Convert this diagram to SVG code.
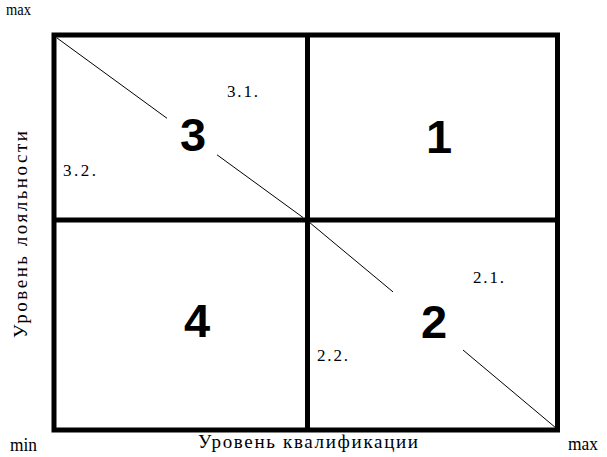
<svg xmlns="http://www.w3.org/2000/svg" width="607" height="457" viewBox="0 0 607 457">
<style>
.frame{fill:none;stroke:#000;stroke-width:5}
.diag{stroke:#000;stroke-width:1;fill:none}
.big{font-family:"Liberation Sans",Arial,sans-serif;font-weight:bold;font-size:47px;text-anchor:middle;fill:#000}
.small{font-family:"Liberation Serif","Times New Roman",serif;font-size:17px;fill:#000}
.axis{font-family:"Liberation Serif","Times New Roman",serif;font-size:19px;fill:#000}
</style>
<rect width="607" height="457" fill="#fff"/>
<g id="grid">
<rect class="frame" x="54" y="35" width="503.5" height="395"/>
<line class="frame" x1="307.5" y1="35" x2="307.5" y2="430"/>
<line class="frame" x1="54" y1="220" x2="557.5" y2="220"/>
</g>
<g id="connectors">
<line class="diag" x1="57" y1="38" x2="167" y2="118.3"/>
<line class="diag" x1="217" y1="154.8" x2="303" y2="217.5"/>
<line class="diag" x1="309" y1="222" x2="393" y2="291.9"/>
<line class="diag" x1="463" y1="350" x2="556" y2="428"/>
</g>
<g id="q3">
<text class="big" x="193" y="151">3</text>
<text class="small" x="227" y="97" textLength="31" lengthAdjust="spacing">3.1.</text>
<text class="small" x="63" y="176" textLength="33" lengthAdjust="spacing">3.2.</text>
</g>
<g id="q1">
<text class="big" x="439" y="153">1</text>
</g>
<g id="q4">
<text class="big" x="197" y="337">4</text>
</g>
<g id="q2">
<text class="big" x="434" y="338">2</text>
<text class="small" x="473" y="283" textLength="31" lengthAdjust="spacing">2.1.</text>
<text class="small" x="317" y="361" textLength="31" lengthAdjust="spacing">2.2.</text>
</g>
<g id="axes">
<text class="axis" x="6" y="15" style="font-size:16px" textLength="25" lengthAdjust="spacingAndGlyphs">max</text>
<text class="axis" x="10" y="451" textLength="27" lengthAdjust="spacingAndGlyphs">min</text>
<text class="axis" x="568" y="450" textLength="30" lengthAdjust="spacingAndGlyphs">max</text>
<text class="axis" x="198" y="448" textLength="220" lengthAdjust="spacing">Уровень квалификации</text>
<text class="axis" transform="translate(27,338) rotate(-90)" x="0" y="0" textLength="207" lengthAdjust="spacing">Уровень лояльности</text>
</g>
</svg>
